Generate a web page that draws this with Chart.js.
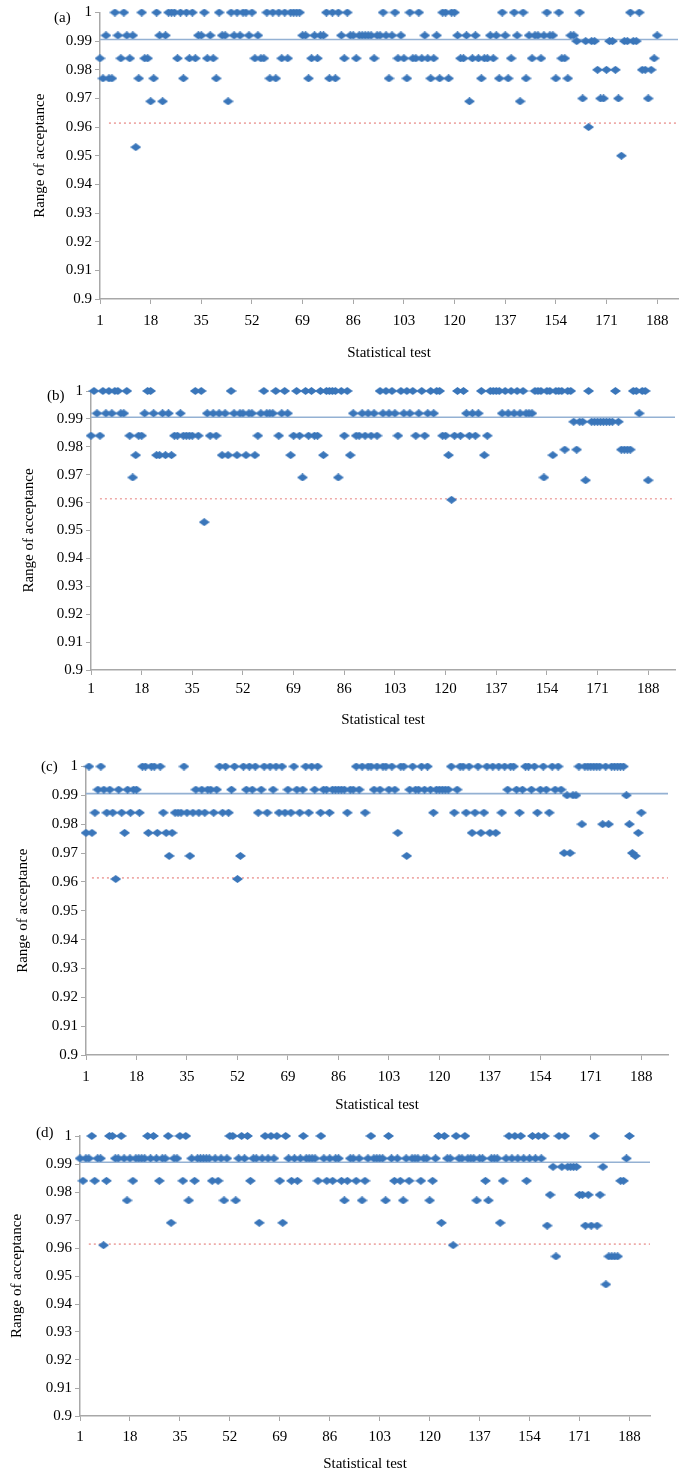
<!DOCTYPE html>
<html>
<head>
<meta charset="utf-8">
<script src="https://cdn.jsdelivr.net/npm/chart.js@4.4.1/dist/chart.umd.min.js"></script>
<style>
html, body { margin: 0; padding: 0; background: #fff; overflow: hidden; }
body { width: 683px; height: 1474px; position: relative; }
canvas { position: absolute; left: 0; }
.tag { position: absolute; font: 15px "Liberation Serif", serif; line-height: 18px; color: #000; }
</style>
</head>
<body>
<canvas id="ca"></canvas>
<canvas id="cb"></canvas>
<canvas id="cc"></canvas>
<canvas id="cd"></canvas>
<div class="tag" style="left:54px;top:8px">(a)</div>
<div class="tag" style="left:47px;top:386px">(b)</div>
<div class="tag" style="left:41px;top:757px">(c)</div>
<div class="tag" style="left:36px;top:1123px">(d)</div>
<script>
// proportion of passing sequences for each of the 188 statistical tests
const testsA = [
  0.984, 0.977, 0.992, 0.977, 0.977, 1, 0.992, 0.984, 1, 0.992,
  0.984, 0.992, 0.953, 0.977, 1, 0.984, 0.984, 0.969, 0.977, 1,
  0.992, 0.969, 0.992, 1, 1, 1, 0.984, 1, 0.977, 1,
  0.984, 1, 0.984, 0.992, 0.992, 1, 0.984, 0.992, 0.984, 0.977,
  1, 0.992, 0.992, 0.969, 1, 0.992, 1, 0.992, 1, 1,
  0.992, 1, 0.984, 0.992, 0.984, 0.984, 1, 0.977, 1, 0.977,
  1, 0.984, 1, 0.984, 1, 1, 1, 1, 0.992, 0.992,
  0.977, 0.984, 0.992, 0.984, 0.992, 0.992, 1, 0.977, 1, 0.977,
  1, 0.992, 0.984, 1, 0.992, 0.992, 0.984, 0.992, 0.992, 0.992,
  0.992, 0.992, 0.984, 0.992, 0.992, 1, 0.992, 0.977, 0.992, 1,
  0.984, 0.992, 0.984, 0.977, 1, 0.984, 0.984, 1, 0.984, 0.992,
  0.984, 0.977, 0.984, 0.992, 0.977, 1, 1, 0.977, 1, 1,
  0.992, 0.984, 0.984, 0.992, 0.969, 0.984, 0.992, 0.984, 0.977, 0.984,
  0.984, 0.992, 0.984, 0.992, 0.977, 1, 0.992, 0.977, 0.984, 1,
  0.992, 0.969, 1, 0.977, 0.992, 0.984, 0.992, 0.992, 0.984, 0.992,
  1, 0.992, 0.992, 0.977, 1, 0.984, 0.984, 0.977, 0.992, 0.992,
  0.99, 1, 0.97, 0.99, 0.96, 0.99, 0.99, 0.98, 0.97, 0.97,
  0.98, 0.99, 0.99, 0.98, 0.97, 0.95, 0.99, 0.99, 1, 0.99,
  0.99, 1, 0.98, 0.98, 0.97, 0.98, 0.984, 0.992
];
const testsB = [
  0.984, 1, 0.992, 0.984, 1, 0.992, 1, 0.992, 1, 1,
  0.992, 0.992, 1, 0.984, 0.969, 0.977, 0.984, 0.984, 0.992, 1,
  1, 0.992, 0.977, 0.977, 0.992, 0.977, 0.992, 0.977, 0.984, 0.984,
  0.992, 0.984, 0.984, 0.984, 0.984, 1, 0.984, 1, 0.953, 0.992,
  0.984, 0.992, 0.984, 0.992, 0.977, 0.992, 0.977, 1, 0.992, 0.977,
  0.992, 0.992, 0.977, 0.992, 0.992, 0.977, 0.984, 0.992, 1, 0.992,
  0.992, 0.992, 1, 0.984, 0.992, 1, 0.992, 0.977, 0.984, 1,
  0.984, 0.969, 1, 0.984, 1, 0.984, 0.984, 1, 0.977, 1,
  1, 1, 1, 0.969, 1, 0.984, 1, 0.977, 0.992, 0.984,
  0.984, 0.992, 0.984, 0.992, 0.984, 0.992, 0.984, 1, 0.992, 1,
  0.992, 1, 0.992, 0.984, 1, 0.992, 1, 0.992, 1, 0.984,
  0.992, 1, 0.984, 0.992, 1, 0.992, 1, 1, 0.984, 0.984,
  0.977, 0.961, 0.984, 1, 0.984, 1, 0.992, 0.984, 0.992, 0.984,
  0.992, 1, 0.977, 0.984, 1, 1, 1, 1, 0.992, 1,
  0.992, 1, 0.992, 1, 0.992, 1, 0.992, 0.992, 0.992, 1,
  1, 1, 0.969, 1, 1, 0.977, 1, 1, 1, 0.979,
  1, 1, 0.989, 0.979, 0.989, 0.989, 0.968, 1, 0.989, 0.989,
  0.989, 0.989, 0.989, 0.989, 0.989, 0.989, 1, 0.989, 0.979, 0.979,
  0.979, 0.979, 1, 1, 0.992, 1, 1, 0.968
];
const testsC = [
  0.977, 1, 0.977, 0.984, 0.992, 1, 0.992, 0.984, 0.992, 0.984,
  0.961, 0.992, 0.984, 0.977, 0.992, 0.984, 0.992, 0.992, 0.984, 1,
  1, 0.977, 1, 1, 0.977, 1, 0.984, 0.977, 0.969, 0.977,
  0.984, 0.984, 0.984, 1, 0.984, 0.969, 0.984, 0.992, 0.984, 0.992,
  0.984, 0.992, 0.992, 0.984, 0.992, 1, 0.984, 1, 0.984, 0.992,
  1, 0.961, 0.969, 1, 0.992, 1, 0.992, 1, 0.984, 0.992,
  1, 0.984, 1, 0.992, 1, 0.984, 1, 0.984, 0.992, 0.984,
  1, 0.992, 0.984, 0.992, 1, 0.984, 1, 0.992, 1, 0.984,
  0.992, 0.992, 0.984, 0.992, 0.992, 0.992, 0.992, 0.992, 0.984, 0.992,
  0.992, 1, 0.992, 1, 0.984, 1, 1, 0.992, 1, 0.992,
  1, 1, 0.992, 1, 0.992, 0.977, 1, 1, 0.969, 0.992,
  1, 0.992, 0.992, 1, 0.992, 1, 0.992, 0.984, 0.992, 0.992,
  0.992, 0.992, 0.992, 1, 0.984, 0.992, 1, 1, 0.984, 1,
  0.977, 0.984, 1, 0.977, 0.984, 1, 0.977, 1, 0.977, 1,
  0.984, 1, 0.992, 1, 1, 0.992, 0.984, 0.992, 1, 1,
  0.992, 1, 0.984, 0.992, 1, 0.992, 0.984, 1, 0.992, 1,
  0.992, 0.97, 0.99, 0.97, 0.99, 0.99, 1, 0.98, 1, 1,
  1, 1, 1, 1, 0.98, 1, 0.98, 1, 1, 1,
  1, 1, 0.99, 0.98, 0.97, 0.969, 0.977, 0.984
];
const testsD = [
  0.992, 0.984, 0.992, 0.992, 1, 0.984, 0.992, 0.992, 0.961, 0.984,
  1, 1, 0.992, 0.992, 1, 0.992, 0.977, 0.992, 0.984, 0.992,
  0.992, 0.992, 0.992, 1, 0.992, 1, 0.992, 0.984, 0.992, 0.992,
  1, 0.969, 0.992, 0.992, 1, 0.984, 1, 0.977, 0.992, 0.984,
  0.992, 0.992, 0.992, 0.992, 0.992, 0.984, 0.992, 0.984, 0.992, 0.977,
  0.992, 1, 1, 0.977, 0.992, 1, 0.992, 1, 0.984, 0.992,
  0.992, 0.969, 0.992, 1, 0.992, 1, 0.992, 1, 0.984, 0.969,
  1, 0.992, 0.984, 0.992, 0.984, 0.992, 1, 0.992, 0.992, 0.992,
  0.992, 0.984, 1, 0.992, 0.984, 0.992, 0.984, 0.992, 0.992, 0.984,
  0.977, 0.984, 0.992, 0.992, 0.984, 0.992, 0.977, 0.984, 0.992, 1,
  0.992, 0.992, 0.992, 0.992, 0.977, 1, 0.992, 0.984, 0.992, 0.984,
  0.977, 0.992, 0.984, 0.992, 0.992, 0.992, 0.984, 0.992, 0.992, 0.977,
  0.984, 0.992, 1, 0.969, 1, 0.992, 0.992, 0.961, 1, 0.992,
  0.992, 1, 0.992, 0.992, 0.992, 0.977, 0.992, 0.992, 0.984, 0.977,
  0.992, 0.992, 0.992, 0.969, 0.984, 0.992, 1, 0.992, 1, 0.992,
  1, 0.992, 0.984, 0.992, 1, 0.992, 1, 0.992, 1, 0.968,
  0.979, 0.989, 0.957, 1, 0.989, 1, 0.989, 0.989, 0.989, 0.989,
  0.979, 0.979, 0.968, 0.979, 0.968, 1, 0.968, 0.979, 0.989, 0.947,
  0.957, 0.957, 0.957, 0.957, 0.984, 0.984, 0.992, 1
];

const xTickValues = [1, 18, 35, 52, 69, 86, 103, 120, 137, 154, 171, 188];
const yTickValues = [0.9, 0.91, 0.92, 0.93, 0.94, 0.95, 0.96, 0.97, 0.98, 0.99, 1];
const upperBound = 0.9906;
const lowerBound = 0.9614;

const serif = '"Liberation Serif", "Times New Roman", serif';

// flattened diamond marker like the spreadsheet one
function diamond(w, h, color) {
  const c = document.createElement('canvas');
  c.width = w; c.height = h;
  const g = c.getContext('2d');
  g.fillStyle = color;
  g.beginPath();
  g.moveTo(w / 2, 0); g.lineTo(w, h / 2); g.lineTo(w / 2, h); g.lineTo(0, h / 2);
  g.closePath();
  g.fill();
  return c;
}
const marker = diamond(11, 8, '#3a76ba');

const panels = [
  { id: 'ca', values: testsA, top: 0,    width: 683, height: 365, padTop: 12.5, axisLeft: 100, xMax: 195, xAxisH: 66, tickPad: 8, titleOff: 31, redFrom: 4 },
  { id: 'cb', values: testsB, top: 372,  width: 680, height: 360, padTop: 19,   axisLeft: 91,  xMax: 197, xAxisH: 62, tickPad: 5, titleOff: 20, redFrom: 4 },
  { id: 'cc', values: testsC, top: 748,  width: 673, height: 369, padTop: 18.5, axisLeft: 86,  xMax: 197, xAxisH: 62, tickPad: 8, titleOff: 14, redFrom: 3 },
  { id: 'cd', values: testsD, top: 1118, width: 655, height: 358, padTop: 18,   axisLeft: 80,  xMax: 195, xAxisH: 60, tickPad: 7, titleOff: 8,  redFrom: 4 }
];

panels.forEach(p => {
  const cv = document.getElementById(p.id);
  cv.width = p.width;
  cv.height = p.height;
  cv.style.top = p.top + 'px';

  new Chart(cv, {
    type: 'scatter',
    data: {
      datasets: [
        {
          data: p.values.map((v, i) => ({ x: i + 1, y: v })),
          pointStyle: marker,
          pointRadius: 5,
          backgroundColor: '#3a76ba',
          borderWidth: 0,
          clip: false
        },
        {
          data: [{ x: 1, y: upperBound }, { x: p.xMax, y: upperBound }],
          showLine: true,
          borderColor: '#94b1d3',
          borderWidth: 1.6,
          pointRadius: 0
        },
        {
          data: [{ x: p.redFrom, y: lowerBound }, { x: p.xMax, y: lowerBound }],
          showLine: true,
          borderColor: '#eeaaa8',
          borderWidth: 1.6,
          borderDash: [2, 3],
          pointRadius: 0
        }
      ]
    },
    options: {
      responsive: false,
      animation: false,
      layout: { padding: { top: p.padTop, left: 0, right: 0, bottom: 0 } },
      plugins: { legend: { display: false }, tooltip: { enabled: false } },
      scales: {
        x: {
          type: 'linear',
          min: 1,
          max: p.xMax,
          afterBuildTicks: axis => { axis.ticks = xTickValues.map(v => ({ value: v })); },
          afterFit: scale => { scale.height = p.xAxisH; },
          grid: { drawOnChartArea: false, tickLength: 5, color: '#a8a8a8' },
          border: { color: '#a8a8a8', width: 1.5 },
          ticks: { color: '#000', font: { family: serif, size: 15 }, padding: p.tickPad, maxRotation: 0, autoSkip: false },
          title: { display: true, text: 'Statistical test', color: '#000', font: { family: serif, size: 15 }, padding: { top: 0, bottom: 3 } }
        },
        y: {
          min: 0.9,
          max: 1,
          afterBuildTicks: axis => { axis.ticks = yTickValues.map(v => ({ value: v })); },
          afterFit: scale => { scale.width = p.axisLeft; },
          grid: { drawOnChartArea: false, tickLength: 5, color: '#a8a8a8' },
          border: { color: '#a8a8a8', width: 1.5 },
          ticks: {
            color: '#000',
            font: { family: serif, size: 15 },
            padding: 3,
            callback: v => String(+Number(v).toFixed(2))
          },
          title: { display: true, text: 'Range of acceptance', color: '#000', font: { family: serif, size: 15 }, padding: { top: p.titleOff, bottom: 0 } }
        }
      }
    }
  });
});
</script>
</body>
</html>
